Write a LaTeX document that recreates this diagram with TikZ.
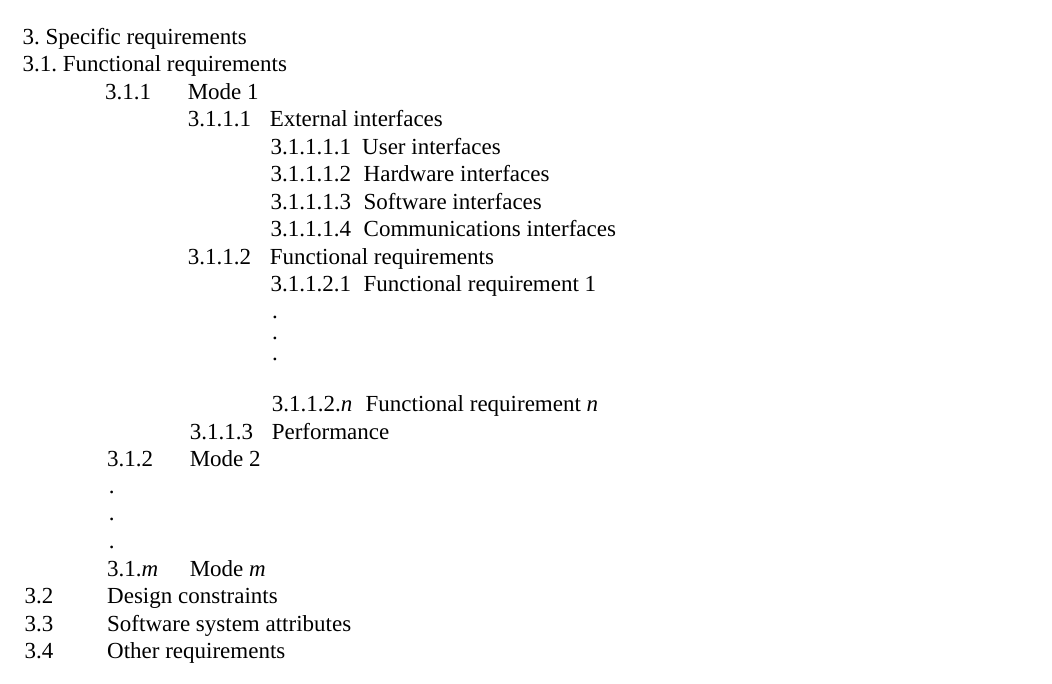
\documentclass[tikz,border=0pt]{standalone}
\usepackage{fontspec}
\setmainfont{Liberation Serif}
\usetikzlibrary{positioning}
\frenchspacing

\begin{document}
\begin{tikzpicture}[x=1pt, y=-1pt,
  every entry/.style={anchor=base west, inner sep=0pt, font=\fontsize{23}{27.5}\selectfont}]

\useasboundingbox (0,0) rectangle (1052,684);

\foreach \ttl/\by [count=\i] in {3. Specific requirements/44.5, 3.1. Functional requirements/72}
  \node [every entry] (head-\i) at (22.3,\by) {\ttl};

\foreach \nx/\tx/\by/\num/\ttl [count=\i] in {
    105/187.6/99.5/3.1.1/Mode 1,
    187.6/269.6/127/3.1.1.1/External interfaces,
    270.4/362/154.5/3.1.1.1.1/User interfaces,
    270.4/363.5/182/3.1.1.1.2/Hardware interfaces,
    270.4/363.5/209.5/3.1.1.1.3/Software interfaces,
    270.4/363.5/237/3.1.1.1.4/Communications interfaces,
    187.6/269.6/264.5/3.1.1.2/Functional requirements,
    270.4/363.5/292/3.1.1.2.1/Functional requirement 1,
    271.6/365.5/411.5/3.1.1.2.\textit{n}/Functional requirement \textit{n},
    189.6/271.6/439/3.1.1.3/Performance,
    107/189.6/466.5/3.1.2/Mode 2,
    107/189.6/576/3.1.\textit{m}/Mode \textit{m},
    24.3/107/603.5/3.2/Design constraints,
    24.3/107/631/3.3/Software system attributes,
    24.3/107/658.5/3.4/Other requirements}
{
  \node [every entry] (num-\i) at (\nx,\by) {\num};
  \node [every entry] (title-\i) at (\tx,\by) {\ttl};
}

%% dots between the entries
\node [every entry, font=\fontsize{23}{21}\selectfont] (fdots) at (272,318.5)
  {\begin{tabular}[t]{@{}l@{}}.\\.\\.\end{tabular}};
\node [every entry] (mdots) at (108.6,493)
  {\begin{tabular}[t]{@{}l@{}}.\\.\\.\end{tabular}};

\end{tikzpicture}
\end{document}
